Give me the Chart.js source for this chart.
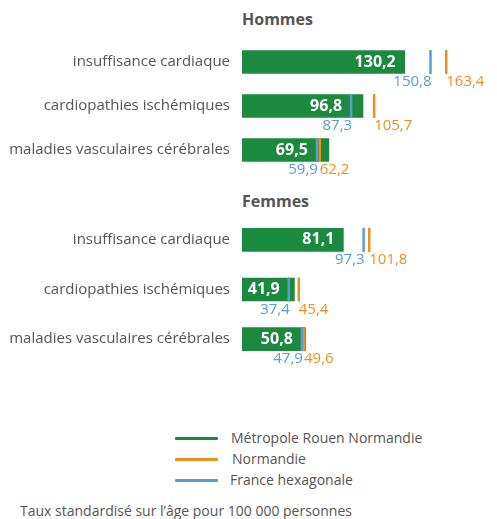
<!DOCTYPE html>
<html>
<head>
<meta charset="utf-8">
<script src="https://cdn.jsdelivr.net/npm/chart.js@4.4.1/dist/chart.umd.min.js"></script>
<style>
  body { margin: 0; background: #fff; font-family: "Open Sans", sans-serif; color: #555; }
  #page { position: relative; width: 497px; height: 519px; overflow: hidden; }
  .titre { position: absolute; left: 242px; font-weight: bold; font-size: 16px; line-height: 20px; }
  .cv { position: absolute; left: 0; }
  .leg { position: absolute; left: 175px; font-size: 14px; line-height: 18px; }
  .leg span.trait { position: absolute; left: 0; top: 8px; width: 43px; height: 3px; border-radius: 1px; }
  .leg span.txt { position: absolute; left: 56px; white-space: nowrap; }
  #note { position: absolute; left: 20px; top: 502px; font-size: 14px; line-height: 18px; white-space: nowrap; }
</style>
</head>
<body>
<div id="page">
  <div class="titre" style="top:9px">Hommes</div>
  <div class="titre" style="top:191px">Femmes</div>
  <canvas id="hommes" class="cv" width="497" height="183" style="top:19px"></canvas>
  <canvas id="femmes" class="cv" width="497" height="200" style="top:194px"></canvas>

  <div class="leg" style="top:429px"><span class="trait" style="background:#1b8a3e"></span><span class="txt">Métropole Rouen Normandie</span></div>
  <div class="leg" style="top:450px"><span class="trait" style="background:#f28e1e"></span><span class="txt" style="left:57px">Normandie</span></div>
  <div class="leg" style="top:471px"><span class="trait" style="background:#5b9bd5"></span><span class="txt" style="left:55px">France hexagonale</span></div>
  <div id="note">Taux standardisé sur l’âge pour 100 000 personnes</div>
</div>
<script>
const categories = ['insuffisance cardiaque', 'cardiopathies ischémiques', 'maladies vasculaires cérébrales'];

// Hommes
const hommesMetropole = [130.2, 96.8, 69.5];
const hommesNormandie = [163.4, 105.7, 62.2];
const hommesFrance = [150.8, 87.3, 59.9];

// Femmes
const femmesMetropole = [81.1, 41.9, 50.8];
const femmesNormandie = [101.8, 45.4, 49.6];
const femmesFrance = [97.3, 37.4, 47.9];

const vert = '#1b8a3e';
const orange = '#f28e1e';
const bleu = '#5b9bd5';
const police = '"Open Sans", sans-serif';

const fmt = v => v.toFixed(1).replace('.', ',');

// valeurs écrites sur les barres et sous les repères
const etiquettes = {
    id: 'etiquettes',
    afterDatasetsDraw(chart) {
        const ctx = chart.ctx;
        const barres = chart.getDatasetMeta(0).data;
        const repFrance = chart.getDatasetMeta(1).data;
        const repNormandie = chart.getDatasetMeta(2).data;
        const ds = chart.data.datasets;
        ctx.save();
        ctx.textBaseline = 'middle';
        barres.forEach((barre, i) => {
            const yc = barre.y;
            const xf = repFrance[i].x;
            const xn = repNormandie[i].x;
            ctx.font = 'bold 16px ' + police;
            ctx.fillStyle = '#fff';
            ctx.textAlign = 'right';
            ctx.fillText(fmt(ds[0].data[i]), Math.min(barre.x, xf) - 9, yc);
            ctx.font = '15px ' + police;
            ctx.fillStyle = bleu;
            ctx.textAlign = 'right';
            ctx.fillText(fmt(ds[1].data[i]), xf + 1, yc + 20);
            ctx.fillStyle = orange;
            ctx.textAlign = 'left';
            ctx.fillText(fmt(ds[2].data[i]), xn, yc + 20);
        });
        ctx.restore();
    }
};

function repere(valeurs, couleur) {
    return {
        type: 'line', indexAxis: 'y', data: valeurs, showLine: false,
        pointStyle: 'line', pointRotation: 90, pointRadius: 12, pointHoverRadius: 12,
        pointBorderColor: couleur, borderColor: couleur, pointBorderWidth: 2.5,
        clip: false, order: 1
    };
}

function creerGraphique(id, metropole, normandie, france) {
    return new Chart(document.getElementById(id), {
        type: 'bar',
        data: {
            labels: categories,
            datasets: [
                { type: 'bar', indexAxis: 'y', data: metropole, backgroundColor: vert, barThickness: 23, order: 3 },
                repere(france, bleu),
                repere(normandie, orange)
            ]
        },
        options: {
            indexAxis: 'y',
            responsive: false,
            animation: false,
            layout: { padding: { top: 20, bottom: 30, left: 0, right: 0 }, autoPadding: false },
            plugins: { legend: { display: false }, tooltip: { enabled: false } },
            scales: {
                x: { min: 0, max: 204, display: false },
                y: {
                    ticks: { padding: 12, color: '#555', font: { family: police, size: 15 } },
                    grid: { display: false, drawTicks: false },
                    border: { display: false },
                    afterFit: s => { s.width = 242; }
                }
            }
        },
        plugins: [etiquettes]
    });
}

creerGraphique('hommes', hommesMetropole, hommesNormandie, hommesFrance);
creerGraphique('femmes', femmesMetropole, femmesNormandie, femmesFrance);
</script>
</body>
</html>
